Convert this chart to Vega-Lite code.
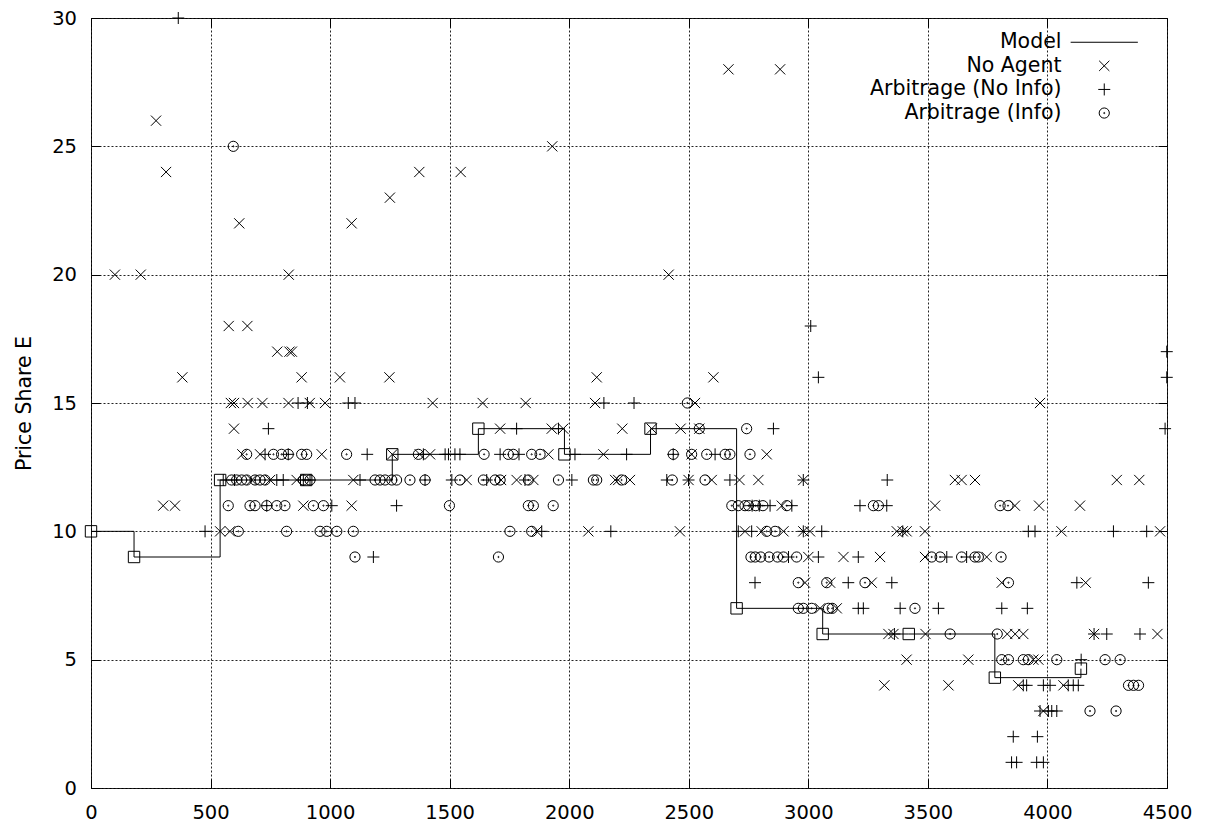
{
"$schema": "https://vega.github.io/schema/vega-lite/v6.json",
"width": 1076, "height": 770,
"autosize": {"type": "none"},
"padding": {"left": 91, "top": 18, "right": 40, "bottom": 42},
"background": "white",
"config": {
 "view": {"stroke": "black", "strokeWidth": 1},
 "font": "DejaVu Sans",
 "axis": {"labelFont": "DejaVu Sans", "labelFontSize": 19.5, "labelColor": "black", "tickColor": "black", "tickSize": -9, "tickWidth": 1, "domain": false, "gridColor": "#222", "gridDash": [2, 2], "gridWidth": 1, "titleFont": "DejaVu Sans", "titleFontSize": 20.5, "titleFontWeight": "normal", "titleColor": "black", "labelFlush": false, "labelOverlap": false, "format": "d"}
},
"datasets": {
 "model": [
  {"x": 0, "y": 10}, {"x": 180, "y": 9}, {"x": 540, "y": 12}, {"x": 900, "y": 12}, {"x": 1260, "y": 13}, {"x": 1620, "y": 14}, {"x": 1980, "y": 13}, {"x": 2340, "y": 14}, {"x": 2700, "y": 7}, {"x": 3060, "y": 6}, {"x": 3420, "y": 6}, {"x": 3780, "y": 4.3}, {"x": 4140, "y": 4.65}
 ],
 "pts": [
  {"s": "No Agent", "y": 28, "x": 2666}, {"s": "No Agent", "y": 28, "x": 2882},
  {"s": "No Agent", "y": 26, "x": 272},
  {"s": "No Agent", "y": 25, "x": 1929},
  {"s": "No Agent", "y": 24, "x": 314}, {"s": "No Agent", "y": 24, "x": 1373}, {"s": "No Agent", "y": 24, "x": 1546},
  {"s": "No Agent", "y": 23, "x": 1250},
  {"s": "No Agent", "y": 22, "x": 620}, {"s": "No Agent", "y": 22, "x": 1090},
  {"s": "No Agent", "y": 20, "x": 100}, {"s": "No Agent", "y": 20, "x": 208}, {"s": "No Agent", "y": 20, "x": 827}, {"s": "No Agent", "y": 20, "x": 2416},
  {"s": "No Agent", "y": 18, "x": 576}, {"s": "No Agent", "y": 18, "x": 654},
  {"s": "No Agent", "y": 17, "x": 779}, {"s": "No Agent", "y": 17, "x": 830}, {"s": "No Agent", "y": 17, "x": 840},
  {"s": "No Agent", "y": 16, "x": 382}, {"s": "No Agent", "y": 16, "x": 881}, {"s": "No Agent", "y": 16, "x": 1041}, {"s": "No Agent", "y": 16, "x": 1248}, {"s": "No Agent", "y": 16, "x": 2115}, {"s": "No Agent", "y": 16, "x": 2603},
  {"s": "No Agent", "y": 15, "x": 585}, {"s": "No Agent", "y": 15, "x": 598}, {"s": "No Agent", "y": 15, "x": 655}, {"s": "No Agent", "y": 15, "x": 717}, {"s": "No Agent", "y": 15, "x": 826}, {"s": "No Agent", "y": 15, "x": 915}, {"s": "No Agent", "y": 15, "x": 979}, {"s": "No Agent", "y": 15, "x": 1429}, {"s": "No Agent", "y": 15, "x": 1638}, {"s": "No Agent", "y": 15, "x": 1818}, {"s": "No Agent", "y": 15, "x": 2108}, {"s": "No Agent", "y": 15, "x": 2526}, {"s": "No Agent", "y": 15, "x": 3969},
  {"s": "No Agent", "y": 14, "x": 598}, {"s": "No Agent", "y": 14, "x": 1711}, {"s": "No Agent", "y": 14, "x": 1927}, {"s": "No Agent", "y": 14, "x": 1975}, {"s": "No Agent", "y": 14, "x": 2222}, {"s": "No Agent", "y": 14, "x": 2345}, {"s": "No Agent", "y": 14, "x": 2466}, {"s": "No Agent", "y": 14, "x": 2544},
  {"s": "No Agent", "y": 13, "x": 633}, {"s": "No Agent", "y": 13, "x": 707}, {"s": "No Agent", "y": 13, "x": 965}, {"s": "No Agent", "y": 13, "x": 1260}, {"s": "No Agent", "y": 13, "x": 1375}, {"s": "No Agent", "y": 13, "x": 1418}, {"s": "No Agent", "y": 13, "x": 1913}, {"s": "No Agent", "y": 13, "x": 2143}, {"s": "No Agent", "y": 13, "x": 2512}, {"s": "No Agent", "y": 13, "x": 2826},
  {"s": "No Agent", "y": 12, "x": 672}, {"s": "No Agent", "y": 12, "x": 749}, {"s": "No Agent", "y": 12, "x": 860}, {"s": "No Agent", "y": 12, "x": 1097}, {"s": "No Agent", "y": 12, "x": 1571}, {"s": "No Agent", "y": 12, "x": 1715}, {"s": "No Agent", "y": 12, "x": 1780}, {"s": "No Agent", "y": 12, "x": 1850}, {"s": "No Agent", "y": 12, "x": 2192}, {"s": "No Agent", "y": 12, "x": 2205}, {"s": "No Agent", "y": 12, "x": 2254}, {"s": "No Agent", "y": 12, "x": 2499}, {"s": "No Agent", "y": 12, "x": 2596}, {"s": "No Agent", "y": 12, "x": 2712}, {"s": "No Agent", "y": 12, "x": 2791}, {"s": "No Agent", "y": 12, "x": 2979}, {"s": "No Agent", "y": 12, "x": 3613}, {"s": "No Agent", "y": 12, "x": 3641}, {"s": "No Agent", "y": 12, "x": 3697}, {"s": "No Agent", "y": 12, "x": 4290}, {"s": "No Agent", "y": 12, "x": 4384},
  {"s": "No Agent", "y": 11, "x": 302}, {"s": "No Agent", "y": 11, "x": 351}, {"s": "No Agent", "y": 11, "x": 888}, {"s": "No Agent", "y": 11, "x": 1090}, {"s": "No Agent", "y": 11, "x": 2889}, {"s": "No Agent", "y": 11, "x": 3530}, {"s": "No Agent", "y": 11, "x": 3864}, {"s": "No Agent", "y": 11, "x": 3965}, {"s": "No Agent", "y": 11, "x": 4136},
  {"s": "No Agent", "y": 10, "x": 540}, {"s": "No Agent", "y": 10, "x": 581}, {"s": "No Agent", "y": 10, "x": 1864}, {"s": "No Agent", "y": 10, "x": 2080}, {"s": "No Agent", "y": 10, "x": 2463}, {"s": "No Agent", "y": 10, "x": 2735}, {"s": "No Agent", "y": 10, "x": 2805}, {"s": "No Agent", "y": 10, "x": 2896}, {"s": "No Agent", "y": 10, "x": 2979}, {"s": "No Agent", "y": 10, "x": 3007}, {"s": "No Agent", "y": 10, "x": 3370}, {"s": "No Agent", "y": 10, "x": 3395}, {"s": "No Agent", "y": 10, "x": 3411}, {"s": "No Agent", "y": 10, "x": 3488}, {"s": "No Agent", "y": 10, "x": 4059}, {"s": "No Agent", "y": 10, "x": 4471},
  {"s": "No Agent", "y": 9, "x": 3000}, {"s": "No Agent", "y": 9, "x": 3147}, {"s": "No Agent", "y": 9, "x": 3300}, {"s": "No Agent", "y": 9, "x": 3488}, {"s": "No Agent", "y": 9, "x": 3746},
  {"s": "No Agent", "y": 8, "x": 2986}, {"s": "No Agent", "y": 8, "x": 3091}, {"s": "No Agent", "y": 8, "x": 3265}, {"s": "No Agent", "y": 8, "x": 3809}, {"s": "No Agent", "y": 8, "x": 4160},
  {"s": "No Agent", "y": 7, "x": 3049}, {"s": "No Agent", "y": 7, "x": 3119},
  {"s": "No Agent", "y": 6, "x": 3335}, {"s": "No Agent", "y": 6, "x": 3356}, {"s": "No Agent", "y": 6, "x": 3490}, {"s": "No Agent", "y": 6, "x": 3832}, {"s": "No Agent", "y": 6, "x": 3865}, {"s": "No Agent", "y": 6, "x": 3899}, {"s": "No Agent", "y": 6, "x": 4195}, {"s": "No Agent", "y": 6, "x": 4460},
  {"s": "No Agent", "y": 5, "x": 3411}, {"s": "No Agent", "y": 5, "x": 3669}, {"s": "No Agent", "y": 5, "x": 3941}, {"s": "No Agent", "y": 5, "x": 3962},
  {"s": "No Agent", "y": 4, "x": 3318}, {"s": "No Agent", "y": 4, "x": 3586}, {"s": "No Agent", "y": 4, "x": 3878}, {"s": "No Agent", "y": 4, "x": 4067},
  {"s": "No Agent", "y": 3, "x": 3983},

  {"s": "Arbitrage (No Info)", "y": 30, "x": 365},
  {"s": "Arbitrage (No Info)", "y": 18, "x": 3010},
  {"s": "Arbitrage (No Info)", "y": 17, "x": 4499},
  {"s": "Arbitrage (No Info)", "y": 16, "x": 3042}, {"s": "Arbitrage (No Info)", "y": 16, "x": 4499},
  {"s": "Arbitrage (No Info)", "y": 15, "x": 866}, {"s": "Arbitrage (No Info)", "y": 15, "x": 905}, {"s": "Arbitrage (No Info)", "y": 15, "x": 1076}, {"s": "Arbitrage (No Info)", "y": 15, "x": 1104}, {"s": "Arbitrage (No Info)", "y": 15, "x": 2145}, {"s": "Arbitrage (No Info)", "y": 15, "x": 2271},
  {"s": "Arbitrage (No Info)", "y": 14, "x": 742}, {"s": "Arbitrage (No Info)", "y": 14, "x": 1780}, {"s": "Arbitrage (No Info)", "y": 14, "x": 1955}, {"s": "Arbitrage (No Info)", "y": 14, "x": 2854}, {"s": "Arbitrage (No Info)", "y": 14, "x": 4492},
  {"s": "Arbitrage (No Info)", "y": 13, "x": 728}, {"s": "Arbitrage (No Info)", "y": 13, "x": 825}, {"s": "Arbitrage (No Info)", "y": 13, "x": 1155}, {"s": "Arbitrage (No Info)", "y": 13, "x": 1390}, {"s": "Arbitrage (No Info)", "y": 13, "x": 1481}, {"s": "Arbitrage (No Info)", "y": 13, "x": 1495}, {"s": "Arbitrage (No Info)", "y": 13, "x": 1522}, {"s": "Arbitrage (No Info)", "y": 13, "x": 1543}, {"s": "Arbitrage (No Info)", "y": 13, "x": 1711}, {"s": "Arbitrage (No Info)", "y": 13, "x": 1790}, {"s": "Arbitrage (No Info)", "y": 13, "x": 2024}, {"s": "Arbitrage (No Info)", "y": 13, "x": 2240}, {"s": "Arbitrage (No Info)", "y": 13, "x": 2435}, {"s": "Arbitrage (No Info)", "y": 13, "x": 2610},
  {"s": "Arbitrage (No Info)", "y": 12, "x": 553}, {"s": "Arbitrage (No Info)", "y": 12, "x": 600}, {"s": "Arbitrage (No Info)", "y": 12, "x": 777}, {"s": "Arbitrage (No Info)", "y": 12, "x": 804}, {"s": "Arbitrage (No Info)", "y": 12, "x": 888}, {"s": "Arbitrage (No Info)", "y": 12, "x": 916}, {"s": "Arbitrage (No Info)", "y": 12, "x": 1125}, {"s": "Arbitrage (No Info)", "y": 12, "x": 1397}, {"s": "Arbitrage (No Info)", "y": 12, "x": 1509}, {"s": "Arbitrage (No Info)", "y": 12, "x": 1655}, {"s": "Arbitrage (No Info)", "y": 12, "x": 1815}, {"s": "Arbitrage (No Info)", "y": 12, "x": 2011}, {"s": "Arbitrage (No Info)", "y": 12, "x": 2408}, {"s": "Arbitrage (No Info)", "y": 12, "x": 2499}, {"s": "Arbitrage (No Info)", "y": 12, "x": 2672}, {"s": "Arbitrage (No Info)", "y": 12, "x": 2979}, {"s": "Arbitrage (No Info)", "y": 12, "x": 3330},
  {"s": "Arbitrage (No Info)", "y": 11, "x": 735}, {"s": "Arbitrage (No Info)", "y": 11, "x": 1007}, {"s": "Arbitrage (No Info)", "y": 11, "x": 1278}, {"s": "Arbitrage (No Info)", "y": 11, "x": 2765}, {"s": "Arbitrage (No Info)", "y": 11, "x": 2795}, {"s": "Arbitrage (No Info)", "y": 11, "x": 2840}, {"s": "Arbitrage (No Info)", "y": 11, "x": 2931}, {"s": "Arbitrage (No Info)", "y": 11, "x": 3216}, {"s": "Arbitrage (No Info)", "y": 11, "x": 3328},
  {"s": "Arbitrage (No Info)", "y": 10, "x": 477}, {"s": "Arbitrage (No Info)", "y": 10, "x": 1885}, {"s": "Arbitrage (No Info)", "y": 10, "x": 2174}, {"s": "Arbitrage (No Info)", "y": 10, "x": 2707}, {"s": "Arbitrage (No Info)", "y": 10, "x": 2763}, {"s": "Arbitrage (No Info)", "y": 10, "x": 2979}, {"s": "Arbitrage (No Info)", "y": 10, "x": 3056}, {"s": "Arbitrage (No Info)", "y": 10, "x": 3395}, {"s": "Arbitrage (No Info)", "y": 10, "x": 3920}, {"s": "Arbitrage (No Info)", "y": 10, "x": 3948}, {"s": "Arbitrage (No Info)", "y": 10, "x": 4276}, {"s": "Arbitrage (No Info)", "y": 10, "x": 4415},
  {"s": "Arbitrage (No Info)", "y": 9, "x": 1181}, {"s": "Arbitrage (No Info)", "y": 9, "x": 2917}, {"s": "Arbitrage (No Info)", "y": 9, "x": 3042}, {"s": "Arbitrage (No Info)", "y": 9, "x": 3209}, {"s": "Arbitrage (No Info)", "y": 9, "x": 3579}, {"s": "Arbitrage (No Info)", "y": 9, "x": 3662},
  {"s": "Arbitrage (No Info)", "y": 8, "x": 2777}, {"s": "Arbitrage (No Info)", "y": 8, "x": 3167}, {"s": "Arbitrage (No Info)", "y": 8, "x": 3349}, {"s": "Arbitrage (No Info)", "y": 8, "x": 4123}, {"s": "Arbitrage (No Info)", "y": 8, "x": 4422},
  {"s": "Arbitrage (No Info)", "y": 7, "x": 3209}, {"s": "Arbitrage (No Info)", "y": 7, "x": 3230}, {"s": "Arbitrage (No Info)", "y": 7, "x": 3384}, {"s": "Arbitrage (No Info)", "y": 7, "x": 3544}, {"s": "Arbitrage (No Info)", "y": 7, "x": 3809}, {"s": "Arbitrage (No Info)", "y": 7, "x": 3916},
  {"s": "Arbitrage (No Info)", "y": 6, "x": 3360}, {"s": "Arbitrage (No Info)", "y": 6, "x": 4195}, {"s": "Arbitrage (No Info)", "y": 6, "x": 4248}, {"s": "Arbitrage (No Info)", "y": 6, "x": 4387},
  {"s": "Arbitrage (No Info)", "y": 5, "x": 4141},
  {"s": "Arbitrage (No Info)", "y": 4, "x": 3899}, {"s": "Arbitrage (No Info)", "y": 4, "x": 3913}, {"s": "Arbitrage (No Info)", "y": 4, "x": 3983}, {"s": "Arbitrage (No Info)", "y": 4, "x": 4011}, {"s": "Arbitrage (No Info)", "y": 4, "x": 4087}, {"s": "Arbitrage (No Info)", "y": 4, "x": 4108}, {"s": "Arbitrage (No Info)", "y": 4, "x": 4129},
  {"s": "Arbitrage (No Info)", "y": 3, "x": 3969}, {"s": "Arbitrage (No Info)", "y": 3, "x": 4004}, {"s": "Arbitrage (No Info)", "y": 3, "x": 4018}, {"s": "Arbitrage (No Info)", "y": 3, "x": 4039},
  {"s": "Arbitrage (No Info)", "y": 2, "x": 3857}, {"s": "Arbitrage (No Info)", "y": 2, "x": 3958},
  {"s": "Arbitrage (No Info)", "y": 1, "x": 3850}, {"s": "Arbitrage (No Info)", "y": 1, "x": 3871}, {"s": "Arbitrage (No Info)", "y": 1, "x": 3955}, {"s": "Arbitrage (No Info)", "y": 1, "x": 3983},

  {"s": "Arbitrage (Info)", "y": 25, "x": 595},
  {"s": "Arbitrage (Info)", "y": 15, "x": 2494},
  {"s": "Arbitrage (Info)", "y": 14, "x": 2544}, {"s": "Arbitrage (Info)", "y": 14, "x": 2742},
  {"s": "Arbitrage (Info)", "y": 13, "x": 651}, {"s": "Arbitrage (Info)", "y": 13, "x": 763}, {"s": "Arbitrage (Info)", "y": 13, "x": 797}, {"s": "Arbitrage (Info)", "y": 13, "x": 825}, {"s": "Arbitrage (Info)", "y": 13, "x": 881}, {"s": "Arbitrage (Info)", "y": 13, "x": 902}, {"s": "Arbitrage (Info)", "y": 13, "x": 1069}, {"s": "Arbitrage (Info)", "y": 13, "x": 1369}, {"s": "Arbitrage (Info)", "y": 13, "x": 1644}, {"s": "Arbitrage (Info)", "y": 13, "x": 1745}, {"s": "Arbitrage (Info)", "y": 13, "x": 1766}, {"s": "Arbitrage (Info)", "y": 13, "x": 1843}, {"s": "Arbitrage (Info)", "y": 13, "x": 1878}, {"s": "Arbitrage (Info)", "y": 13, "x": 2435}, {"s": "Arbitrage (Info)", "y": 13, "x": 2512}, {"s": "Arbitrage (Info)", "y": 13, "x": 2575}, {"s": "Arbitrage (Info)", "y": 13, "x": 2652}, {"s": "Arbitrage (Info)", "y": 13, "x": 2672}, {"s": "Arbitrage (Info)", "y": 13, "x": 2756},
  {"s": "Arbitrage (Info)", "y": 12, "x": 588}, {"s": "Arbitrage (Info)", "y": 12, "x": 609}, {"s": "Arbitrage (Info)", "y": 12, "x": 630}, {"s": "Arbitrage (Info)", "y": 12, "x": 651}, {"s": "Arbitrage (Info)", "y": 12, "x": 686}, {"s": "Arbitrage (Info)", "y": 12, "x": 707}, {"s": "Arbitrage (Info)", "y": 12, "x": 728}, {"s": "Arbitrage (Info)", "y": 12, "x": 888}, {"s": "Arbitrage (Info)", "y": 12, "x": 916}, {"s": "Arbitrage (Info)", "y": 12, "x": 1188}, {"s": "Arbitrage (Info)", "y": 12, "x": 1209}, {"s": "Arbitrage (Info)", "y": 12, "x": 1230}, {"s": "Arbitrage (Info)", "y": 12, "x": 1258}, {"s": "Arbitrage (Info)", "y": 12, "x": 1278}, {"s": "Arbitrage (Info)", "y": 12, "x": 1334}, {"s": "Arbitrage (Info)", "y": 12, "x": 1397}, {"s": "Arbitrage (Info)", "y": 12, "x": 1543}, {"s": "Arbitrage (Info)", "y": 12, "x": 1641}, {"s": "Arbitrage (Info)", "y": 12, "x": 1690}, {"s": "Arbitrage (Info)", "y": 12, "x": 1711}, {"s": "Arbitrage (Info)", "y": 12, "x": 1829}, {"s": "Arbitrage (Info)", "y": 12, "x": 1955}, {"s": "Arbitrage (Info)", "y": 12, "x": 2101}, {"s": "Arbitrage (Info)", "y": 12, "x": 2115}, {"s": "Arbitrage (Info)", "y": 12, "x": 2219}, {"s": "Arbitrage (Info)", "y": 12, "x": 2431}, {"s": "Arbitrage (Info)", "y": 12, "x": 2568},
  {"s": "Arbitrage (Info)", "y": 11, "x": 574}, {"s": "Arbitrage (Info)", "y": 11, "x": 665}, {"s": "Arbitrage (Info)", "y": 11, "x": 686}, {"s": "Arbitrage (Info)", "y": 11, "x": 735}, {"s": "Arbitrage (Info)", "y": 11, "x": 777}, {"s": "Arbitrage (Info)", "y": 11, "x": 811}, {"s": "Arbitrage (Info)", "y": 11, "x": 930}, {"s": "Arbitrage (Info)", "y": 11, "x": 972}, {"s": "Arbitrage (Info)", "y": 11, "x": 1499}, {"s": "Arbitrage (Info)", "y": 11, "x": 1829}, {"s": "Arbitrage (Info)", "y": 11, "x": 1850}, {"s": "Arbitrage (Info)", "y": 11, "x": 1933}, {"s": "Arbitrage (Info)", "y": 11, "x": 2680}, {"s": "Arbitrage (Info)", "y": 11, "x": 2707}, {"s": "Arbitrage (Info)", "y": 11, "x": 2735}, {"s": "Arbitrage (Info)", "y": 11, "x": 2750}, {"s": "Arbitrage (Info)", "y": 11, "x": 2780}, {"s": "Arbitrage (Info)", "y": 11, "x": 2810}, {"s": "Arbitrage (Info)", "y": 11, "x": 2910}, {"s": "Arbitrage (Info)", "y": 11, "x": 3272}, {"s": "Arbitrage (Info)", "y": 11, "x": 3293}, {"s": "Arbitrage (Info)", "y": 11, "x": 3802}, {"s": "Arbitrage (Info)", "y": 11, "x": 3835},
  {"s": "Arbitrage (Info)", "y": 10, "x": 616}, {"s": "Arbitrage (Info)", "y": 10, "x": 818}, {"s": "Arbitrage (Info)", "y": 10, "x": 958}, {"s": "Arbitrage (Info)", "y": 10, "x": 986}, {"s": "Arbitrage (Info)", "y": 10, "x": 1028}, {"s": "Arbitrage (Info)", "y": 10, "x": 1097}, {"s": "Arbitrage (Info)", "y": 10, "x": 1752}, {"s": "Arbitrage (Info)", "y": 10, "x": 1843}, {"s": "Arbitrage (Info)", "y": 10, "x": 2826}, {"s": "Arbitrage (Info)", "y": 10, "x": 2861},
  {"s": "Arbitrage (Info)", "y": 9, "x": 1104}, {"s": "Arbitrage (Info)", "y": 9, "x": 1704}, {"s": "Arbitrage (Info)", "y": 9, "x": 2760}, {"s": "Arbitrage (Info)", "y": 9, "x": 2778}, {"s": "Arbitrage (Info)", "y": 9, "x": 2801}, {"s": "Arbitrage (Info)", "y": 9, "x": 2836}, {"s": "Arbitrage (Info)", "y": 9, "x": 2871}, {"s": "Arbitrage (Info)", "y": 9, "x": 2896}, {"s": "Arbitrage (Info)", "y": 9, "x": 2951}, {"s": "Arbitrage (Info)", "y": 9, "x": 3516}, {"s": "Arbitrage (Info)", "y": 9, "x": 3551}, {"s": "Arbitrage (Info)", "y": 9, "x": 3641}, {"s": "Arbitrage (Info)", "y": 9, "x": 3697}, {"s": "Arbitrage (Info)", "y": 9, "x": 3711}, {"s": "Arbitrage (Info)", "y": 9, "x": 3806},
  {"s": "Arbitrage (Info)", "y": 8, "x": 2958}, {"s": "Arbitrage (Info)", "y": 8, "x": 3077}, {"s": "Arbitrage (Info)", "y": 8, "x": 3237}, {"s": "Arbitrage (Info)", "y": 8, "x": 3837},
  {"s": "Arbitrage (Info)", "y": 7, "x": 2958}, {"s": "Arbitrage (Info)", "y": 7, "x": 2979}, {"s": "Arbitrage (Info)", "y": 7, "x": 3014}, {"s": "Arbitrage (Info)", "y": 7, "x": 3084}, {"s": "Arbitrage (Info)", "y": 7, "x": 3100}, {"s": "Arbitrage (Info)", "y": 7, "x": 3446},
  {"s": "Arbitrage (Info)", "y": 6, "x": 3593}, {"s": "Arbitrage (Info)", "y": 6, "x": 3790},
  {"s": "Arbitrage (Info)", "y": 5, "x": 3809}, {"s": "Arbitrage (Info)", "y": 5, "x": 3837}, {"s": "Arbitrage (Info)", "y": 5, "x": 3899}, {"s": "Arbitrage (Info)", "y": 5, "x": 3920}, {"s": "Arbitrage (Info)", "y": 5, "x": 4039}, {"s": "Arbitrage (Info)", "y": 5, "x": 4241}, {"s": "Arbitrage (Info)", "y": 5, "x": 4304},
  {"s": "Arbitrage (Info)", "y": 4, "x": 4339}, {"s": "Arbitrage (Info)", "y": 4, "x": 4360}, {"s": "Arbitrage (Info)", "y": 4, "x": 4381},
  {"s": "Arbitrage (Info)", "y": 3, "x": 4178}, {"s": "Arbitrage (Info)", "y": 3, "x": 4287}
 ]
},
"layer": [
 {
  "data": {"name": "pts"},
  "mark": {"type": "point", "filled": false, "color": "black", "strokeWidth": 1, "size": 144, "opacity": 1},
  "encoding": {
   "x": {"field": "x", "type": "quantitative", "scale": {"domain": [0, 4500], "nice": false, "zero": false},
         "axis": {"orient": "bottom", "values": [0, 500, 1000, 1500, 2000, 2500, 3000, 3500, 4000, 4500], "title": null, "grid": true, "labelPadding": 24}},
   "y": {"field": "y", "type": "quantitative", "scale": {"domain": [0, 30], "nice": false, "zero": false},
         "axis": {"orient": "left", "values": [0, 5, 10, 15, 20, 25, 30], "title": "Price Share E", "grid": true, "labelPadding": 23.5, "titlePadding": 17}},
   "shape": {"field": "s", "type": "nominal",
     "scale": {"domain": ["Model", "No Agent", "Arbitrage (No Info)", "Arbitrage (Info)"],
               "range": ["M-5.6,0L5.6,0", "M-0.85,-0.85L0.85,0.85M-0.85,0.85L0.85,-0.85", "M-1,0L1,0M0,-1L0,1", "M-0.85,0A0.85,0.85,0,1,0,0.85,0A0.85,0.85,0,1,0,-0.85,0ZM-0.1,0A0.1,0.1,0,1,0,0.1,0A0.1,0.1,0,1,0,-0.1,0Z"]},
     "legend": {"title": null, "orient": "none", "legendX": 1003, "legendY": 14, "padding": 0, "labelFont": "DejaVu Sans", "labelFontSize": 20.5, "labelColor": "black", "labelAlign": "right", "labelOffset": -53, "labelLimit": 400, "symbolSize": 144, "symbolStrokeColor": "black", "symbolStrokeWidth": 1, "symbolFillColor": "transparent", "rowPadding": 2.6}}
  }
 },
 {
  "data": {"name": "model"},
  "mark": {"type": "line", "interpolate": "step-after", "color": "black", "strokeWidth": 1,
           "point": {"shape": "square", "filled": false, "size": 130, "color": "black", "strokeWidth": 1}},
  "encoding": {
   "x": {"field": "x", "type": "quantitative", "axis": {"orient": "top", "values": [0, 500, 1000, 1500, 2000, 2500, 3000, 3500, 4000, 4500], "labels": false, "grid": false, "title": null}},
   "y": {"field": "y", "type": "quantitative", "axis": {"orient": "right", "values": [0, 5, 10, 15, 20, 25, 30], "labels": false, "grid": false, "title": null}}
  }
 }
]
}
